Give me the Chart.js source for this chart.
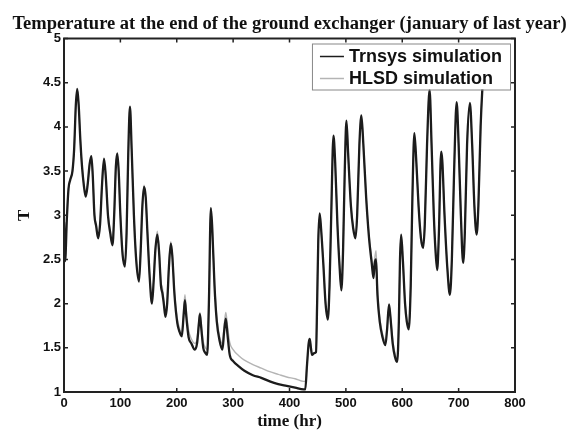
<!DOCTYPE html>
<html>
<head>
<meta charset="utf-8">
<script src="https://cdn.jsdelivr.net/npm/chart.js@4.4.1/dist/chart.umd.min.js"></script>
<style>
  html, body { margin: 0; padding: 0; background: #fff; }
</style>
</head>
<body>
<canvas id="tempChart" width="575" height="430"></canvas>
<script>
// values
const hours = [
  0, 2, 5, 8, 11, 15, 18, 21, 23.5, 26, 29, 32, 35, 38.5, 42, 45.5, 48.5, 51, 54, 57,
  60.5, 64, 67.5, 71, 74, 78, 82, 86, 89, 92, 94.5, 97, 100, 104, 108, 111, 114, 117, 120, 124,
  128, 133, 136, 139, 142, 145, 148, 152, 156, 159, 162, 165.5, 168.5, 172, 174.5, 177, 180, 183, 186, 189.5,
  192, 196, 201, 205, 209, 212, 214.5, 217, 221, 226, 232, 236, 239, 241, 243.5, 247, 251, 254, 257, 260.5,
  263, 267, 271, 276, 281, 284, 287, 290, 294, 300, 310, 320, 335, 350, 365, 380, 395, 410, 425, 428,
  431, 434, 436, 438, 440, 444, 447, 449, 451, 453.5, 456, 460, 464, 468, 471, 474, 478, 481, 485, 489,
  492, 495, 498, 501, 504, 509, 513, 517, 520, 524, 527.5, 531, 536, 541, 546, 549, 551, 553.5, 556, 560,
  565, 570, 573, 576.5, 579, 583, 587, 591, 594, 596, 598, 601, 605, 608, 611.5, 615, 618, 621.5, 625, 629,
  633, 637, 640, 644, 648.5, 652, 656, 659, 662, 665, 669, 671, 675, 680, 684.5, 688, 692, 696.5, 700, 704,
  708, 711, 715, 720, 724, 728, 732, 735, 739, 742, 745
];
const trnsysT = [
  2.92, 2.48, 2.95, 3.3, 3.4, 3.5, 3.75, 4.25, 4.43, 4.25, 3.85, 3.55, 3.35, 3.21, 3.35, 3.58, 3.67, 3.45, 3.0, 2.88,
  2.74, 2.9, 3.35, 3.64, 3.45, 3.0, 2.8, 2.66, 3.0, 3.55, 3.70, 3.5, 3.0, 2.55, 2.42, 2.8, 3.7, 4.23, 3.75, 3.0,
  2.5, 2.25, 2.6, 3.1, 3.32, 3.2, 2.8, 2.3, 2.0, 2.25, 2.6, 2.78, 2.6, 2.2, 2.12, 2.0, 1.85, 2.0, 2.4, 2.68,
  2.55, 2.1, 1.78, 1.68, 1.63, 1.85, 2.04, 1.85, 1.62, 1.55, 1.48, 1.55, 1.75, 1.88, 1.72, 1.5, 1.44, 1.42, 2.0, 3.08,
  2.85, 2.2, 1.8, 1.58, 1.48, 1.68, 1.83, 1.65, 1.42, 1.35, 1.29, 1.24, 1.19, 1.16, 1.12, 1.09, 1.07, 1.05, 1.03, 1.03,
  1.3, 1.55, 1.6, 1.5, 1.42, 1.44, 1.45, 2.0, 2.7, 3.02, 2.85, 2.45, 2.0, 1.82, 2.2, 3.0, 3.9, 3.6, 2.9, 2.4,
  2.15, 2.6, 3.5, 4.07, 3.7, 3.1, 2.85, 2.74, 3.0, 3.8, 4.13, 3.8, 3.2, 2.75, 2.45, 2.29, 2.45, 2.5, 2.1, 1.8,
  1.62, 1.53, 1.7, 1.99, 1.85, 1.55, 1.4, 1.34, 1.8, 2.5, 2.78, 2.5, 2.0, 1.8, 1.71, 2.2, 3.2, 3.93, 3.6, 3.1,
  2.75, 2.63, 2.9, 3.8, 4.42, 3.8, 3.0, 2.6, 2.38, 2.8, 3.72, 3.62, 3.0, 2.4, 2.1, 2.5, 3.5, 4.28, 3.8, 3.0,
  2.46, 2.8, 3.8, 4.27, 3.8, 3.1, 2.78, 3.1, 4.0, 4.42, 4.7
];
const hlsdT = [
  2.92, 2.48, 2.95, 3.3, 3.4, 3.5, 3.75, 4.25, 4.42, 4.25, 3.85, 3.55, 3.36, 3.22, 3.36, 3.58, 3.66, 3.45, 3.02, 2.9,
  2.76, 2.92, 3.35, 3.63, 3.45, 3.02, 2.82, 2.68, 3.0, 3.55, 3.69, 3.5, 3.02, 2.57, 2.44, 2.8, 3.7, 4.2, 3.75, 3.02,
  2.52, 2.27, 2.6, 3.1, 3.34, 3.2, 2.82, 2.32, 2.03, 2.27, 2.62, 2.82, 2.63, 2.25, 2.18, 2.04, 1.89, 2.02, 2.42, 2.7,
  2.57, 2.14, 1.83, 1.72, 1.67, 1.9, 2.1, 1.92, 1.7, 1.6, 1.55, 1.6, 1.8, 1.9, 1.78, 1.57, 1.5, 1.48, 2.0, 3.05,
  2.85, 2.25, 1.85, 1.63, 1.55, 1.75, 1.9, 1.75, 1.56, 1.48, 1.41, 1.36, 1.31, 1.27, 1.23, 1.2, 1.17, 1.15, 1.12, 1.12,
  1.3, 1.55, 1.6, 1.5, 1.42, 1.44, 1.45, 2.0, 2.7, 3.0, 2.85, 2.45, 2.0, 1.84, 2.2, 3.0, 3.88, 3.6, 2.9, 2.42,
  2.17, 2.6, 3.5, 4.05, 3.7, 3.1, 2.87, 2.76, 3.0, 3.8, 4.11, 3.8, 3.2, 2.78, 2.5, 2.33, 2.5, 2.6, 2.2, 1.85,
  1.66, 1.58, 1.72, 1.98, 1.87, 1.6, 1.44, 1.38, 1.8, 2.5, 2.76, 2.5, 2.02, 1.82, 1.74, 2.2, 3.2, 3.9, 3.6, 3.1,
  2.77, 2.65, 2.9, 3.8, 4.4, 3.8, 3.0, 2.62, 2.4, 2.8, 3.7, 3.62, 3.0, 2.42, 2.13, 2.5, 3.5, 4.26, 3.8, 3.0,
  2.48, 2.8, 3.8, 4.25, 3.8, 3.1, 2.8, 3.1, 4.0, 4.42, 4.7
];
const xTicks = [0, 100, 200, 300, 400, 500, 600, 700, 800];
const yTicks = [1, 1.5, 2, 2.5, 3, 3.5, 4, 4.5, 5];
const titleText = "Temperature at the end of the ground exchanger (january of last year)";

const serif = "'Liberation Serif', 'Times New Roman', serif";
const sans = "'Liberation Sans', Arial, sans-serif";

// title centred over the plot box, not over the canvas
const plotTitle = {
  id: "plotTitle",
  afterDraw(chart) {
    const { ctx, chartArea: a } = chart;
    ctx.save();
    ctx.font = "bold 18.5px " + serif;
    ctx.fillStyle = "#111";
    ctx.textAlign = "center";
    ctx.textBaseline = "alphabetic";
    ctx.fillText(titleText, (a.left + a.right) / 2, a.top - 10);
    ctx.restore();
  },
};

// box + inward tick marks, matlab style
const matlabAxes = {
  id: "matlabAxes",
  afterDraw(chart) {
    const { ctx, chartArea: a, scales } = chart;
    const len = 4;
    ctx.save();
    ctx.strokeStyle = "#222";
    ctx.lineWidth = 1.5;
    ctx.beginPath();
    xTicks.forEach((v) => {
      const px = scales.x.getPixelForValue(v);
      ctx.moveTo(px, a.bottom);
      ctx.lineTo(px, a.bottom - len);
      ctx.moveTo(px, a.top);
      ctx.lineTo(px, a.top + len);
    });
    yTicks.forEach((v) => {
      const py = scales.y.getPixelForValue(v);
      ctx.moveTo(a.left, py);
      ctx.lineTo(a.left + len, py);
      ctx.moveTo(a.right, py);
      ctx.lineTo(a.right - len, py);
    });
    ctx.stroke();
    ctx.lineWidth = 2;
    ctx.strokeRect(a.left, a.top, a.width, a.height);
    ctx.restore();
  },
};

// legend box in the upper right corner of the plot
const boxLegend = {
  id: "boxLegend",
  afterDatasetsDraw(chart) {
    const { ctx, chartArea: a } = chart;
    const sets = chart.data.datasets;
    ctx.save();
    ctx.font = "bold 18px " + sans;
    const textW = Math.max(...sets.map((d) => ctx.measureText(d.label).width));
    const w = 37 + textW + 8;
    const h = 46;
    const left = a.right - 5 - w;
    const top = a.top + 5;
    ctx.fillStyle = "#fff";
    ctx.fillRect(left, top, w, h);
    ctx.strokeStyle = "#888";
    ctx.lineWidth = 1;
    ctx.strokeRect(left + 0.5, top + 0.5, w, h);
    ctx.textBaseline = "middle";
    sets.forEach((d, i) => {
      const y = top + 13 + i * 22;
      ctx.strokeStyle = d.borderColor;
      ctx.lineWidth = 1.5;
      ctx.beginPath();
      ctx.moveTo(left + 8, y);
      ctx.lineTo(left + 32, y);
      ctx.stroke();
      ctx.fillStyle = "#111";
      ctx.fillText(d.label, left + 37, y + 1);
    });
    ctx.restore();
  },
};

const ctx = document.getElementById("tempChart").getContext("2d");
new Chart(ctx, {
  type: "line",
  data: {
    datasets: [
      {
        label: "Trnsys simulation",
        data: hours.map((h, i) => ({ x: h, y: trnsysT[i] })),
        borderColor: "#1c1c1c",
        borderWidth: 2.3,
        pointRadius: 0,
        cubicInterpolationMode: "monotone",
      },
      {
        label: "HLSD simulation",
        data: hours.map((h, i) => ({ x: h, y: hlsdT[i] })),
        borderColor: "#b4b4b4",
        borderWidth: 1.4,
        pointRadius: 0,
        cubicInterpolationMode: "monotone",
      },
    ],
  },
  options: {
    responsive: false,
    animation: false,
    layout: { padding: { left: 0, right: 60, top: 38.5, bottom: 0 } },
    plugins: {
      legend: { display: false },
      tooltip: { enabled: false },
      title: { display: false },
    },
    scales: {
      x: {
        type: "linear",
        min: 0,
        max: 800,
        afterBuildTicks: (scale) => {
          scale.ticks = xTicks.map((v) => ({ value: v }));
        },
        afterFit: (scale) => {
          scale.height = 38;
        },
        grid: { display: false, drawTicks: false },
        border: { display: false },
        ticks: {
          color: "#111",
          padding: 4,
          maxRotation: 0,
          font: { family: sans, size: 13, weight: "bold" },
          callback: (v) => String(v),
        },
        title: {
          display: true,
          text: "time (hr)",
          color: "#111",
          font: { family: serif, size: 17, weight: "bold", lineHeight: 1 },
          padding: { top: 0, bottom: 0 },
        },
      },
      y: {
        min: 1,
        max: 5,
        afterBuildTicks: (scale) => {
          scale.ticks = yTicks.map((v) => ({ value: v }));
        },
        afterFit: (scale) => {
          scale.width = 64;
        },
        grid: { display: false, drawTicks: false },
        border: { display: false },
        ticks: {
          color: "#111",
          padding: 3,
          font: { family: sans, size: 13, weight: "bold" },
          callback: (v) => String(v),
        },
        title: {
          display: true,
          text: "T",
          color: "#111",
          font: { family: serif, size: 17, weight: "bold", lineHeight: 1 },
          padding: { top: 16, bottom: 0 },
        },
      },
    },
  },
  plugins: [boxLegend, matlabAxes, plotTitle],
});
</script>
</body>
</html>
